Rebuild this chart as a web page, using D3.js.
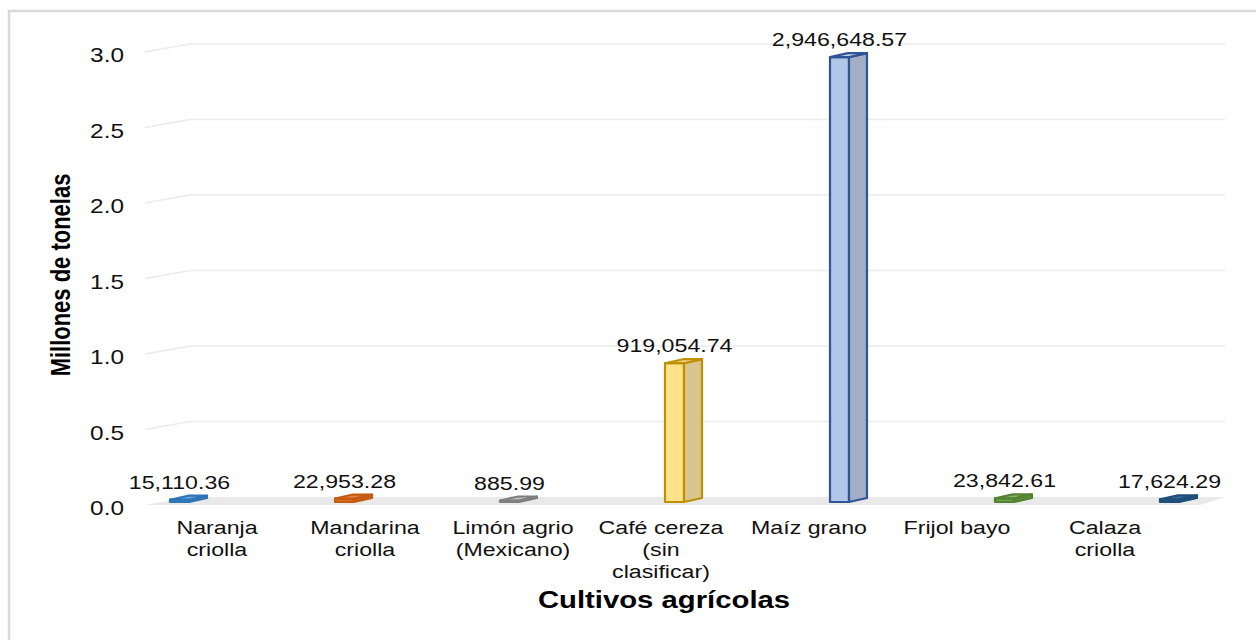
<!DOCTYPE html>
<html>
<head>
<meta charset="utf-8">
<script src="https://cdn.jsdelivr.net/npm/d3@7"></script>
<style>
  html, body { margin: 0; padding: 0; background: #ffffff; }
  svg { display: block; font-family: Arial, "Liberation Sans", sans-serif; }
</style>
</head>
<body>
<svg id="chart" width="1256" height="640"></svg>
<script>
// Producción de cultivos agrícolas (toneladas)
const categories = [
  "Naranja criolla", "Mandarina criolla", "Limón agrio (Mexicano)",
  "Café cereza (sin clasificar)", "Maíz grano", "Frijol bayo", "Calaza criolla"
];
const categoryLines = [
  ["Naranja", "criolla"],
  ["Mandarina", "criolla"],
  ["Limón agrio", "(Mexicano)"],
  ["Café cereza", "(sin", "clasificar)"],
  ["Maíz grano"],
  ["Frijol bayo"],
  ["Calaza", "criolla"]
];
const toneladas = [15110.36, 22953.28, 885.99, 919054.74, 2946648.57, 23842.61, 17624.29];
const yTicks = [0, 0.5, 1.0, 1.5, 2.0, 2.5, 3.0];

// Colour per column: outline, front face, side face, top face
const outline = ["#2E75B6", "#C55A11", "#7F7F7F", "#BF9000", "#2F5597", "#548235", "#1F4E79"];
const frontFill = ["#4D8AD0", "#DA6F27", "#A6A6A6", "#FFE38C", "#B1C6E8", "#6FA64A", "#2C5D8C"];
const sideFill = ["#3C78BC", "#C0601E", "#8E8E8E", "#D9C590", "#A1AEC5", "#5D9039", "#244F79"];
const topFill = ["#6A9FDC", "#E8874A", "#BDBDBD", "#EBD38E", "#C4D3EC", "#86B865", "#3B6C9C"];

const svg = d3.select("#chart");
const SX = 1.22; // horizontal stretch of the lettering
const ink = "#111111";

// Chart frame
svg.append("rect")
  .attr("x", 9).attr("y", 11).attr("width", 1270).attr("height", 650)
  .attr("fill", "#ffffff").attr("stroke", "#D9D9D9").attr("stroke-width", 2.5);

// Scales: front plane for values, column and label positions along x
const y = d3.scaleLinear().domain([0, 3]).range([505, 52]);
const xBar = d3.scalePoint().domain(categories).range([170, 1160]);
const xLab = d3.scalePoint().domain(categories).range([217, 1105]);

// 3D depth offsets
const wallLeft = 145, wallBack = 190, wallRight = 1225, wallDy = -8;
const barW = 19, depthX = 18, depthY = -4, barBase = 502;

// Floor
svg.append("polygon")
  .attr("points", [
    [wallLeft, y(0)], [wallBack, y(0) + wallDy],
    [wallRight, y(0) + wallDy], [1200, y(0)]
  ].map(p => p.join(",")).join(" "))
  .attr("fill", "#E9E9E9");

// Gridlines: side wall slant then back wall
svg.append("g").selectAll("polyline")
  .data(yTicks.filter(t => t > 0))
  .join("polyline")
  .attr("points", d => [
    [wallLeft, y(d)], [wallBack, y(d) + wallDy], [wallRight, y(d) + wallDy]
  ].map(p => p.join(",")).join(" "))
  .attr("fill", "none")
  .attr("stroke", "#EBEBEB")
  .attr("stroke-width", 1.5);

// Y axis tick labels
const yAxis = svg.append("g")
  .attr("transform", "translate(124,9.5)")
  .call(d3.axisLeft(y).tickValues(yTicks).tickFormat(d3.format(".1f")).tickSize(0).tickPadding(0));
yAxis.select(".domain").remove();
yAxis.selectAll("text")
  .attr("x", 0).attr("dy", null)
  .attr("text-anchor", "end")
  .attr("font-size", 20)
  .attr("font-family", "Arial, 'Liberation Sans', sans-serif")
  .attr("fill", ink)
  .attr("transform", `scale(${SX},1)`);

// Columns
const bars = svg.append("g").selectAll("g")
  .data(categories.map((c, i) => ({ c, i, v: toneladas[i] / 1e6 })))
  .join("g");

const pts = a => a.map(p => p.join(",")).join(" ");
const topOf = v => Math.min(y(v) - (505 - barBase), barBase - 1.5);
bars.each(function (d) {
  const g = d3.select(this);
  const x0 = xBar(d.c), x1 = x0 + barW;
  const yb = barBase, yt = topOf(d.v);
  const common = sel => sel.attr("stroke", outline[d.i]).attr("stroke-width", 2.2).attr("stroke-linejoin", "round");
  // front
  g.append("polygon").attr("points", pts([[x0, yt], [x1, yt], [x1, yb], [x0, yb]]))
    .attr("fill", frontFill[d.i]).call(common);
  // right side
  g.append("polygon").attr("points", pts([[x1, yt], [x1 + depthX, yt + depthY], [x1 + depthX, yb + depthY], [x1, yb]]))
    .attr("fill", sideFill[d.i]).call(common);
  // top
  g.append("polygon").attr("points", pts([[x0, yt], [x1, yt], [x1 + depthX, yt + depthY], [x0 + depthX, yt + depthY]]))
    .attr("fill", topFill[d.i]).call(common);
});

// Value labels
const fmt = d3.format(",.2f");
bars.append("text")
  .attr("transform", d => `translate(${xBar(d.c) + barW / 2},${topOf(d.v) - 11}) scale(${SX},1)`)
  .attr("text-anchor", "middle")
  .attr("font-size", 19)
  .attr("fill", ink)
  .text(d => fmt(toneladas[d.i]));

// Category labels
svg.append("g").selectAll("g")
  .data(categories)
  .join("g")
  .each(function (c, i) {
    d3.select(this).selectAll("text")
      .data(categoryLines[i])
      .join("text")
      .attr("transform", (t, k) => `translate(${xLab(c)},${534 + k * 22}) scale(${SX},1)`)
      .attr("text-anchor", "middle")
      .attr("font-size", 19)
      .attr("fill", ink)
      .text(t => t);
  });

// Axis titles
svg.append("text")
  .attr("transform", `translate(664,608) scale(${SX},1)`)
  .attr("text-anchor", "middle")
  .attr("font-size", 24)
  .attr("font-weight", "bold")
  .attr("fill", "#000000")
  .text("Cultivos agrícolas");

svg.append("text")
  .attr("transform", `translate(70,275) scale(${SX},1) rotate(-90)`)
  .attr("text-anchor", "middle")
  .attr("font-size", 22)
  .attr("font-weight", "bold")
  .attr("fill", "#000000")
  .text("Millones de tonelas");
</script>
</body>
</html>
